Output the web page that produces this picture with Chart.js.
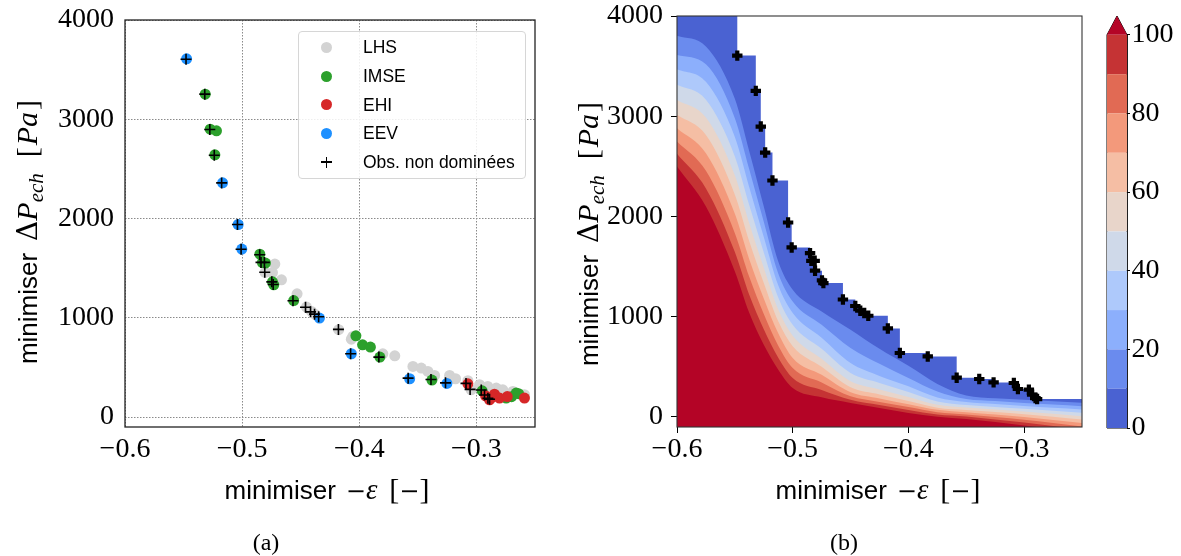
<!DOCTYPE html>
<html>
<head>
<meta charset="utf-8">
<script src="https://cdn.jsdelivr.net/npm/chart.js@4.4.0/dist/chart.umd.min.js"></script>
<style>
  html, body { margin: 0; padding: 0; background: #fff; }
  #page { position: relative; width: 1181px; height: 556px; overflow: hidden; }
  #page canvas { position: absolute; top: 0; }
  #legendA { position: absolute; left: 298px; top: 31px; width: 228px; height: 148px; box-sizing: border-box;
             border: 1px solid #d6d6d6; border-radius: 4px; background: rgba(255,255,255,0.85);
             font-family: "Liberation Sans"; font-size: 17.5px; color: #000; }
  .row { position: absolute; left: 0; height: 0; }
  .dot { position: absolute; left: 22px; top: -5.5px; width: 11px; height: 11px; border-radius: 50%; }
  .plus { position: absolute; left: 22px; top: -5.5px; width: 11px; height: 11px; }
  .plus::before { content: ""; position: absolute; left: 0; top: 4.75px; width: 11px; height: 1.5px; background: #000; }
  .plus::after { content: ""; position: absolute; left: 4.75px; top: 0; width: 1.5px; height: 11px; background: #000; }
  .lab { position: absolute; left: 64px; top: -11px; line-height: 22px; white-space: nowrap; }
  .cap { position: absolute; top: 530px; width: 100px; text-align: center; font-family: "Liberation Serif"; font-size: 24px; line-height: 24px; }
</style>
</head>
<body>
<div id="page">
  <canvas id="chartA" width="560" height="556" style="left:0px"></canvas>
  <canvas id="chartB" width="540" height="556" style="left:560px"></canvas>
  <canvas id="chartC" width="91" height="556" style="left:1090px"></canvas>
  <div id="legendA">
    <div class="row" style="top:15px"><span class="dot" style="background:#d3d3d3"></span><span class="lab">LHS</span></div>
    <div class="row" style="top:44px"><span class="dot" style="background:#2ca02c"></span><span class="lab">IMSE</span></div>
    <div class="row" style="top:72.5px"><span class="dot" style="background:#d62728"></span><span class="lab">EHI</span></div>
    <div class="row" style="top:101px"><span class="dot" style="background:#1e90ff"></span><span class="lab">EEV</span></div>
    <div class="row" style="top:130px"><span class="plus"></span><span class="lab">Obs. non dominées</span></div>
  </div>
  <div class="cap" style="left:216px">(a)</div>
  <div class="cap" style="left:794px">(b)</div>
</div>
<script>
// axes
const xMin = -0.6, xMax = -0.25;
const yMin = -100, yMax = 4000;
const xTicks = [-0.6, -0.5, -0.4, -0.3];
const yTicks = [0, 1000, 2000, 3000, 4000];
const cbTicks = [0, 20, 40, 60, 80, 100];

// observations (a): [-eps, dP]
const lhs = [[-0.4721, 1541], [-0.4804, 1457], [-0.4741, 1456], [-0.4664, 1383], [-0.4531, 1242],
  [-0.4451, 1108], [-0.4408, 1064], [-0.438, 1037], [-0.4176, 880], [-0.4068, 785], [-0.4055, 812],
  [-0.3799, 637], [-0.3697, 617], [-0.3542, 510], [-0.3471, 494], [-0.3414, 460], [-0.3357, 420],
  [-0.3229, 420], [-0.3178, 386], [-0.3073, 366], [-0.3045, 275], [-0.2973, 326], [-0.2903, 309],
  [-0.2831, 292], [-0.2775, 275], [-0.2689, 258], [-0.259, 225]];
const imse = [[-0.5315, 3253], [-0.5273, 2900], [-0.5219, 2884], [-0.5233, 2642], [-0.4849, 1641],
  [-0.4827, 1557], [-0.4801, 1551], [-0.4741, 1362], [-0.473, 1332], [-0.456, 1174], [-0.4029, 819],
  [-0.3972, 728], [-0.3905, 705], [-0.3824, 604], [-0.338, 373], [-0.2951, 265], [-0.2746, 191],
  [-0.27, 205], [-0.2661, 242], [-0.264, 236]];
const ehi = [[-0.3073, 335], [-0.2922, 214], [-0.2888, 174], [-0.2846, 231], [-0.2803, 191],
  [-0.2737, 207], [-0.287, 195], [-0.259, 191]];
const eev = [[-0.5474, 3609], [-0.5167, 2360], [-0.5034, 1940], [-0.5003, 1692], [-0.434, 997],
  [-0.4068, 638], [-0.357, 386], [-0.3252, 339]];
const nonDom = [[-0.5479, 3605], [-0.5319, 3253], [-0.5276, 2897], [-0.5238, 2638], [-0.5175, 2359],
  [-0.504, 1940], [-0.5009, 1691], [-0.485, 1635], [-0.4839, 1558], [-0.481, 1558], [-0.4807, 1459],
  [-0.4747, 1362], [-0.4735, 1336], [-0.4566, 1172], [-0.4459, 1107], [-0.4416, 1060], [-0.4382, 1037],
  [-0.4347, 1010], [-0.4178, 883], [-0.4074, 638], [-0.3833, 604], [-0.3583, 392], [-0.3388, 379],
  [-0.3264, 345], [-0.3089, 339], [-0.3054, 279], [-0.2959, 272], [-0.2931, 222], [-0.2902, 189],
  [-0.2888, 179]];

// contour boundaries (b), read along gridX
const gridX = [-0.6, -0.575, -0.55, -0.5375, -0.525, -0.5125, -0.5, -0.475, -0.45, -0.425, -0.4, -0.375, -0.35, -0.325, -0.3, -0.275, -0.25];
const lvl10  = [3802, 3696, 3174, 2649, 2100, 1552, 1270, 1053, 871, 680, 510, 330, 215, 186, 172, 158, 142];
const lvl20  = [3612, 3519, 2981, 2469, 1947, 1432, 1153, 920, 688, 530, 389, 255, 180, 160, 140, 124, 108];
const lvl30  = [3470, 3343, 2792, 2290, 1795, 1313, 1037, 790, 538, 410, 306, 195, 150, 130, 110, 92, 75];
const lvl40  = [3313, 3164, 2599, 2111, 1642, 1193, 921, 680, 439, 340, 250, 155, 120, 100, 82, 62, 42];
const lvl50  = [3163, 2988, 2409, 1930, 1489, 1073, 811, 580, 356, 275, 200, 122, 95, 75, 55, 32, 8];
const lvl60  = [3014, 2812, 2217, 1751, 1336, 954, 705, 500, 296, 225, 160, 93, 70, 50, 28, 2, -26];
const lvl70  = [2881, 2632, 2027, 1572, 1183, 834, 588, 420, 246, 185, 128, 72, 48, 25, 0, -30, -60];
const lvl80  = [2748, 2456, 1834, 1396, 1027, 711, 489, 345, 206, 150, 100, 48, 25, 0, -28, -60, -94];
const lvl90  = [2625, 2280, 1645, 1216, 874, 592, 389, 270, 173, 120, 70, 25, 5, -25, -55, -90, -125];
const lvl100 = [2499, 2100, 1452, 1037, 721, 472, 289, 196, 140, 90, 40, 2, -20, -50, -85, -120, -160];

const bandColors = ['#4a62d2', '#6a8bee', '#8caffc', '#aec9fb', '#cfd9e9', '#e8d5ca', '#f5bea4', '#f3997b', '#e16a54', '#c53334'];
const overColor = '#b40426';

const toPts = arr => arr.map(([x, y]) => ({ x, y }));
const fmtX = v => v.toFixed(1).replace('-', '\u2212');

// rich text for axis titles
const sansT = '26px "Liberation Sans"';
const mathR = '30px "Liberation Serif"';
const mathI = 'italic 30px "Liberation Serif"';
const subI = 'italic 21px "Liberation Serif"';
const deltaF = '28px "DejaVu Serif"';
const minusF = '24px "DejaVu Serif"';
const epsF = 'italic 29px "Liberation Serif"';
const yTitle = [
  { text: 'minimiser', font: sansT }, { gap: 12 },
  { text: 'Δ', font: deltaF }, { text: 'P', font: mathI }, { text: 'ech', font: subI, dy: 6 },
  { gap: 16 }, { text: '[', font: mathR }, { gap: 2 }, { text: 'Pa', font: mathI }, { gap: 2 }, { text: ']', font: mathR }
];
const xTitle = [
  { text: 'minimiser', font: sansT }, { gap: 10 },
  { text: '−', font: minusF }, { text: 'ε', font: epsF }, { gap: 12 },
  { text: '[', font: mathR }, { text: '−', font: minusF }, { text: ']', font: mathR }
];

function drawRich(ctx, parts, cx, cy, vertical) {
  ctx.save();
  ctx.translate(cx, cy);
  if (vertical) ctx.rotate(-Math.PI / 2);
  ctx.fillStyle = '#000';
  ctx.textBaseline = 'alphabetic';
  ctx.textAlign = 'left';
  let total = 0;
  const w = parts.map(p => {
    if (p.gap) { total += p.gap; return p.gap; }
    ctx.font = p.font;
    const m = ctx.measureText(p.text).width;
    total += m;
    return m;
  });
  let x = -total / 2;
  parts.forEach((p, i) => {
    if (!p.gap) { ctx.font = p.font; ctx.fillText(p.text, x, p.dy || 0); }
    x += w[i];
  });
  ctx.restore();
}

const framePlugin = {
  id: 'frame',
  afterDraw(chart, args, opts) {
    const { ctx, chartArea: a } = chart;
    if (opts.width) {
      ctx.save();
      ctx.strokeStyle = opts.color;
      ctx.lineWidth = opts.width;
      ctx.strokeRect(a.left, a.top, a.right - a.left, a.bottom - a.top);
      ctx.restore();
    }
    if (opts.xPos) drawRich(ctx, xTitle, opts.xPos[0], opts.xPos[1], false);
    if (opts.yPos) drawRich(ctx, yTitle, opts.yPos[0], opts.yPos[1], true);
  }
};

Chart.defaults.font.family = '"Liberation Serif"';
Chart.defaults.color = '#000';

const tickFont = { family: '"Liberation Serif"', size: 28, lineHeight: 1.2 };

// fixed axis sizes, no extra room reserved for end labels
function fixX(s) { s.height = 60; s.paddingLeft = 0; s.paddingRight = 0; }
function fixY(s, w) { s.width = w; s.paddingTop = 0; s.paddingBottom = 0; }

function axisX(opts) {
  return Object.assign({
    type: 'linear', min: xMin, max: xMax,
    afterBuildTicks: s => { s.ticks = xTicks.map(v => ({ value: v })); },
    afterFit: fixX
  }, opts);
}
function axisY(width, opts) {
  return Object.assign({
    type: 'linear', min: yMin, max: yMax,
    afterBuildTicks: s => { s.ticks = yTicks.map(v => ({ value: v })); },
    afterFit: s => fixY(s, width)
  }, opts);
}

// (a) observations
const dots = (data, color, order) => ({
  data: toPts(data), pointStyle: 'circle', pointRadius: 5.5, pointBackgroundColor: color,
  pointBorderWidth: 0, order
});
new Chart(document.getElementById('chartA'), {
  type: 'scatter',
  data: {
    datasets: [
      { data: toPts(nonDom), pointStyle: 'cross', pointRadius: 5.5, pointBorderWidth: 1.6, pointBorderColor: '#000', order: 0 },
      dots(eev, '#1e90ff', 1),
      dots(ehi, '#d62728', 2),
      dots(imse, '#2ca02c', 3),
      dots(lhs, '#d3d3d3', 4)
    ]
  },
  options: {
    responsive: false, animation: false, events: [],
    layout: { padding: { left: 0, top: 20, right: 25, bottom: 69 } },
    plugins: { legend: { display: false }, tooltip: { enabled: false },
      frame: { color: '#222', width: 1.3, xPos: [327, 499], yPos: [37, 232] } },
    scales: {
      x: axisX({
        grid: { color: '#8a8a8a', lineWidth: 1, drawTicks: false },
        border: { display: false, dash: [1.5, 1.5] },
        ticks: { font: tickFont, callback: v => fmtX(v), maxRotation: 0, autoSkip: false, color: '#000', padding: 6 }
      }),
      y: axisY(125, {
        grid: { color: '#8a8a8a', lineWidth: 1, drawTicks: false },
        border: { display: false, dash: [1.5, 1.5] },
        ticks: { font: tickFont, callback: v => String(v), autoSkip: false, color: '#000', padding: 11 }
      })
    }
  },
  plugins: [framePlugin]
});

// (b) contour map + non-dominated front
function frontSteps(pts) {
  const s = [...pts].sort((a, b) => a[0] - b[0]);
  const out = [{ x: xMin, y: yMax + 300 }];
  let m = Infinity;
  s.forEach(([x, y]) => { m = Math.min(m, y); out.push({ x, y: m }); });
  out.push({ x: xMax, y: m });
  return out;
}
const levelCurves = [lvl10, lvl20, lvl30, lvl40, lvl50, lvl60, lvl70, lvl80, lvl90, lvl100];
const bandSets = levelCurves.map((ys, k) => ({
  data: gridX.map((x, i) => ({ x, y: ys[i] })),
  fill: 'start', backgroundColor: k < 9 ? bandColors[k + 1] : overColor,
  borderWidth: 0, pointRadius: 0, cubicInterpolationMode: 'monotone', order: 10 - k
}));
new Chart(document.getElementById('chartB'), {
  type: 'line',
  data: {
    datasets: [
      { data: toPts(nonDom), showLine: false, pointStyle: 'cross', pointRadius: 5.2, pointBorderWidth: 4.2,
        pointBorderColor: '#000', order: 0 },
      ...bandSets,
      { data: frontSteps(nonDom), stepped: 'before', fill: 'start', backgroundColor: bandColors[0],
        borderWidth: 0, pointRadius: 0, order: 11 }
    ]
  },
  options: {
    responsive: false, animation: false, events: [],
    layout: { padding: { left: 0, top: 16, right: 18, bottom: 69 } },
    plugins: { legend: { display: false }, tooltip: { enabled: false },
      frame: { color: '#333', width: 1.1, xPos: [318, 499], yPos: [38, 234] } },
    scales: {
      x: axisX({
        grid: { display: true, drawOnChartArea: false, drawTicks: true, tickLength: 6, tickColor: '#000', tickWidth: 1 },
        border: { display: false },
        ticks: { font: tickFont, callback: v => fmtX(v), maxRotation: 0, autoSkip: false, color: '#000', padding: 0 }
      }),
      y: axisY(117, {
        grid: { display: true, drawOnChartArea: false, drawTicks: true, tickLength: 6, tickColor: '#000', tickWidth: 1 },
        border: { display: false },
        ticks: { font: tickFont, callback: v => String(v), autoSkip: false, color: '#000', padding: 8 }
      })
    }
  },
  plugins: [framePlugin]
});

// colour bar
const cbTop = 104.8;
const cbSets = bandColors.map((c, k) => ({
  data: [{ x: 0, y: (k + 1) * 10 }, { x: 1, y: (k + 1) * 10 }],
  fill: { value: k * 10 }, backgroundColor: c, borderWidth: 0, pointRadius: 0
}));
cbSets.push({
  data: [{ x: 0, y: 100 }, { x: 0.5, y: cbTop }, { x: 1, y: 100 }],
  fill: { value: 100 }, backgroundColor: overColor, borderWidth: 0, pointRadius: 0
});
cbSets.push({
  data: [{ x: 0, y: 0 }, { x: 0, y: 100 }, { x: 0.5, y: cbTop }, { x: 1, y: 100 }, { x: 1, y: 0 }, { x: 0, y: 0 }],
  fill: false, borderColor: '#000', borderWidth: 1, pointRadius: 0, clip: false
});
new Chart(document.getElementById('chartC'), {
  type: 'line',
  data: { datasets: cbSets },
  options: {
    responsive: false, animation: false, events: [],
    layout: { padding: { left: 17, top: 16, right: 0, bottom: 128 } },
    plugins: { legend: { display: false }, tooltip: { enabled: false } },
    scales: {
      x: { type: 'linear', min: 0, max: 1, display: false },
      y: {
        type: 'linear', position: 'right', min: 0, max: cbTop,
        afterBuildTicks: s => { s.ticks = cbTicks.map(v => ({ value: v })); },
        afterFit: s => fixY(s, 54),
        grid: { display: true, drawOnChartArea: false, drawTicks: true, tickLength: 3, tickColor: '#000' },
        border: { display: false },
        ticks: { font: tickFont, color: '#000', padding: 1.5, callback: v => String(v) }
      }
    }
  }
});
</script>
</body>
</html>
